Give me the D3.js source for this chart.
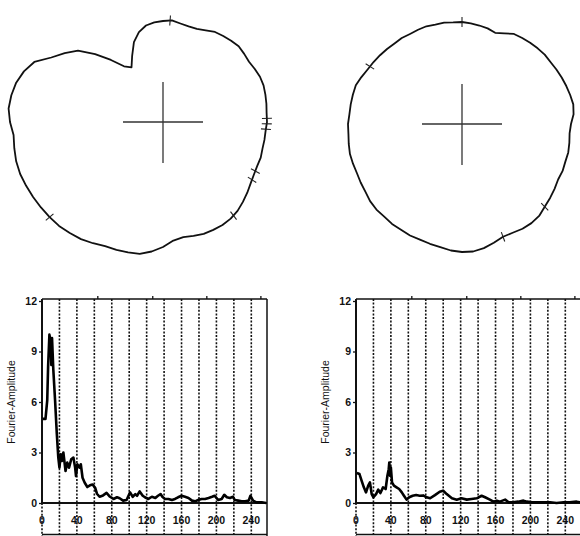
<!DOCTYPE html>
<html>
<head>
<meta charset="utf-8">
<script src="https://cdn.jsdelivr.net/npm/d3@7"></script>
<style>
body { margin: 0; background: #fff; }
svg { display: block; }
text { font-family: "Liberation Sans", Arial, sans-serif; fill: #111; }
</style>
</head>
<body>
<script>

// contour radii (px), one every 5 degrees, clockwise from 12 o'clock
var angles = d3.range(0, 360, 5);
var leftRadius = [101, 102, 100, 99, 99, 101, 104, 105, 106, 107, 106, 105,
                  106, 107, 107, 106, 105, 104, 104, 103, 103, 103, 104, 104,
                  105, 107, 110, 113, 116, 118, 119, 119, 119, 118, 117, 119,
                  125, 130, 134, 135, 136, 137, 140, 143, 145, 147, 148, 149,
                  150, 151, 152, 152, 151, 150, 153, 155, 154, 152, 148, 142,
                  129, 120, 111, 96, 81, 68, 63, 73, 85, 93, 98, 100];
var rightRadius = [102, 101, 100, 99, 97, 100, 104, 105, 106, 107, 108, 108,
                   109, 110, 111, 112, 113, 112, 109, 108, 109, 110, 110, 111,
                   111, 113, 115, 117, 120, 121, 121, 120, 120, 123, 126, 128,
                   128, 127, 125, 124, 123, 123, 122, 122, 121, 121, 120, 118,
                   117, 116, 116, 116, 115, 114, 114, 113, 113, 113, 113, 111,
                   109, 108, 107, 106, 105, 105, 104, 104, 104, 103, 103, 102];
// small marks across the contour (degrees)
var leftMarks = [4, 88, 91, 94, 118, 123, 143, 230];
var rightMarks = [0, 135, 160, 302];

// spectra
var leftFreq = [1, 4, 6, 7, 8.5, 10, 10.7, 11.5, 13, 15, 17, 18.7, 20, 21.5, 23, 24.5, 27, 29, 31, 33.5,
                36, 38, 39, 40.5, 43, 44.5, 46.5, 49, 52, 55, 58, 61, 63, 66, 70, 74, 78, 82, 86, 89,
                93, 97, 101, 104, 107, 109, 112, 115.5, 118, 122, 126, 130, 133, 136, 138, 141, 145, 149, 152.5, 156,
                160, 164, 168, 172, 175.5, 179, 183, 187, 191, 195, 198, 202, 206, 209, 212, 215.5, 219, 221, 225, 229,
                233, 237, 239, 242, 246, 252, 257];
var leftAmp = [5.0, 5.0, 6.1, 8.1, 10.0, 9.6, 8.2, 9.8, 7.9, 6.1, 4.1, 2.7, 2.1, 2.9, 2.5, 3.0, 1.9, 2.4, 2.1, 2.6,
               2.7, 2.1, 1.6, 2.3, 2.1, 2.3, 1.5, 1.2, 0.95, 1.05, 1.1, 0.9, 0.55, 0.37, 0.45, 0.6, 0.37, 0.24, 0.34, 0.28,
               0.14, 0.18, 0.63, 0.37, 0.53, 0.43, 0.69, 0.43, 0.34, 0.24, 0.37, 0.3, 0.43, 0.53, 0.37, 0.24, 0.24, 0.18, 0.24, 0.34,
               0.43, 0.37, 0.3, 0.14, 0.1, 0.18, 0.24, 0.24, 0.3, 0.37, 0.43, 0.18, 0.24, 0.49, 0.34, 0.3, 0.37, 0.18, 0.14, 0.1,
               0.1, 0.14, 0.43, 0.14, 0.04, 0.04, 0.0];
var rightFreq = [1, 4, 6.5, 9, 11.5, 14, 16, 18, 20, 23, 25.5, 28, 31, 34, 36, 37.5, 38.2, 39, 40, 41.3,
                 43.5, 46.5, 49.5, 52.5, 55, 58, 61, 65, 69, 73, 77, 81, 85, 90.5, 96, 100, 104, 110, 115.5, 121,
                 127, 132.5, 138.5, 144, 148, 153.5, 157.5, 161.5, 165, 171, 175, 180, 186, 192, 196, 201.5, 207, 215, 222.5, 230,
                 238, 245, 253, 257];
var rightAmp = [1.78, 1.72, 1.32, 0.93, 0.63, 1.03, 1.22, 0.53, 0.34, 0.53, 0.79, 0.59, 0.93, 0.83, 1.62, 2.01, 2.41, 1.62, 2.11, 1.22,
                1.03, 0.93, 0.83, 0.63, 0.43, 0.2, 0.34, 0.43, 0.47, 0.43, 0.45, 0.34, 0.28, 0.47, 0.67, 0.73, 0.53, 0.28, 0.2, 0.28,
                0.2, 0.24, 0.28, 0.43, 0.34, 0.2, 0.08, 0.14, 0.08, 0.2, 0.04, 0.04, 0.08, 0.14, 0.08, 0.04, 0.04, 0.04, 0.04, 0.0,
                0.04, 0.04, 0.08, 0.04];

var yTicks = [0, 3, 6, 9, 12];
var xLabels = [0, 40, 80, 120, 160, 200, 240];
var gridTicks = [20, 40, 60, 80, 100, 120, 140, 160, 180, 200, 220, 240];
var topTicks = [64, 127, 189, 251];

var svg = d3.select("body").append("svg").attr("width", 580).attr("height", 536);
svg.append("rect").attr("width", 580).attr("height", 536).attr("fill", "#fff");

var ang = d3.scaleLinear().domain([0, 360]).range([0, 2 * Math.PI]);
var rad = d3.scaleLinear().domain([0, 100]).range([0, 100]);

var radiusAt = function(radii, a){
    var i = Math.floor(a / 5), t = (a - i * 5) / 5;
    return radii[i % 72] * (1 - t) + radii[(i + 1) % 72] * t;
};

var drawOutline = function(cx, cy, radii, marks){
    var g = svg.append("g").attr("transform", "translate(" + cx + "," + cy + ")");
    var line = d3.lineRadial()
        .angle(function(d, i){ return ang(angles[i]); })
        .radius(function(d){ return rad(d); })
        .curve(d3.curveLinearClosed);
    g.append("path").attr("d", line(radii))
        .attr("fill", "none").attr("stroke", "#111").attr("stroke-width", 1.8)
        .attr("stroke-linejoin", "round");
    // centre cross
    g.append("line").attr("x1", -40).attr("x2", 40).attr("y1", 0).attr("y2", 0)
        .attr("stroke", "#333").attr("stroke-width", 1.3);
    g.append("line").attr("x1", 0).attr("x2", 0).attr("y1", -40).attr("y2", 41)
        .attr("stroke", "#333").attr("stroke-width", 1.3);
    marks.forEach(function(a){
        var r = radiusAt(radii, a);
        var p1 = d3.pointRadial(ang(a), rad(r - 5));
        var p2 = d3.pointRadial(ang(a), rad(r + 5));
        g.append("line").attr("x1", p1[0]).attr("y1", p1[1]).attr("x2", p2[0]).attr("y2", p2[1])
            .attr("stroke", "#222").attr("stroke-width", 1.1);
    });
};

drawOutline(163, 122, leftRadius, leftMarks);
drawOutline(462, 124, rightRadius, rightMarks);

var drawSpectrum = function(x0, labelX, freq, amp){
    var x = d3.scaleLinear().domain([0, 258]).range([x0, x0 + 225]);
    var y = d3.scaleLinear().domain([0, 12]).range([503, 301]);
    var top = 299, bottom = 536;
    var g = svg.append("g");

    // dotted verticals
    g.selectAll(".grid").data(gridTicks).enter().append("line")
        .attr("x1", function(d){ return x(d); }).attr("x2", function(d){ return x(d); })
        .attr("y1", top).attr("y2", bottom)
        .attr("stroke", "#111").attr("stroke-width", 1.6).attr("stroke-dasharray", "2,1.6");

    // frame
    g.append("line").attr("x1", x0).attr("x2", x0 + 225).attr("y1", top).attr("y2", top)
        .attr("stroke", "#111").attr("stroke-width", 1.5);
    g.append("line").attr("x1", x0).attr("x2", x0 + 225).attr("y1", y(0)).attr("y2", y(0))
        .attr("stroke", "#111").attr("stroke-width", 2);
    g.append("line").attr("x1", x0).attr("x2", x0 + 225).attr("y1", 534.5).attr("y2", 534.5)
        .attr("stroke", "#111").attr("stroke-width", 1.5);
    g.append("line").attr("x1", x0).attr("x2", x0).attr("y1", top).attr("y2", y(0))
        .attr("stroke", "#111").attr("stroke-width", 2);
    g.append("line").attr("x1", x0).attr("x2", x0).attr("y1", y(0)).attr("y2", bottom)
        .attr("stroke", "#111").attr("stroke-width", 1.6).attr("stroke-dasharray", "2,1.6");
    g.append("line").attr("x1", x0 + 225).attr("x2", x0 + 225).attr("y1", top).attr("y2", bottom)
        .attr("stroke", "#111").attr("stroke-width", 1.5);
    g.selectAll(".top").data(topTicks).enter().append("line")
        .attr("x1", function(d){ return x(d); }).attr("x2", function(d){ return x(d); })
        .attr("y1", top - 3).attr("y2", top)
        .attr("stroke", "#111").attr("stroke-width", 1.3);

    // y axis
    var yAxis = d3.axisLeft(y).tickValues(yTicks).tickSize(3).tickPadding(2).tickFormat(d3.format("d"));
    var ya = g.append("g").attr("transform", "translate(" + x0 + ",0)").call(yAxis);
    ya.select(".domain").remove();
    ya.selectAll("line").attr("stroke", "#111").attr("stroke-width", 1.3);
    ya.selectAll("text").attr("font-size", 10.5).attr("font-weight", "bold")
        .attr("font-family", "Liberation Sans, Arial, sans-serif").attr("fill", "#111");

    // x labels
    g.selectAll(".xl").data(xLabels).enter().append("text")
        .attr("x", function(d){ return x(d); }).attr("y", 524)
        .attr("text-anchor", "middle").attr("font-size", 10.5).attr("font-weight", "bold")
        .text(function(d){ return d; });

    // y title
    g.append("text").attr("transform", "translate(" + labelX + ",402) rotate(-90)")
        .attr("text-anchor", "middle").attr("font-size", 10.5)
        .text("Fourier-Amplitude");

    // spectrum
    var line = d3.line()
        .x(function(d, i){ return x(freq[i]); })
        .y(function(d){ return y(d); });
    g.append("path").attr("d", line(amp))
        .attr("fill", "none").attr("stroke", "#000").attr("stroke-width", 2.6)
        .attr("stroke-linejoin", "round");
};

drawSpectrum(42, 15, leftFreq, leftAmp);
drawSpectrum(356, 329, rightFreq, rightAmp);

</script>
</body>
</html>
